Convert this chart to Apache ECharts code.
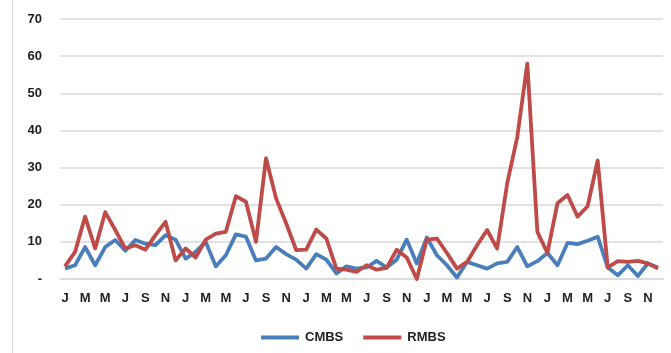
<!DOCTYPE html>
<html>
<head>
<meta charset="utf-8">
<script src="https://cdn.jsdelivr.net/npm/echarts@6/dist/echarts.min.js"></script>
<style>
html,body{margin:0;padding:0;background:#fff;}
#chart{width:671px;height:353px;}
</style>
</head>
<body>
<div id="chart"></div>
<script>
const monthLetters = ['J','F','M','A','M','J','J','A','S','O','N','D'];
const categories = [].concat(monthLetters, monthLetters, monthLetters, monthLetters, monthLetters);
const yTickLabels = {0:'-',10:'10',20:'20',30:'30',40:'40',50:'50',60:'60',70:'70'};
const cmbs = [2.8, 3.7, 8.6, 3.7, 8.6, 10.5, 7.6, 10.5, 9.5, 9.1, 11.8, 10.6,
  5.5, 7.3, 10.0, 3.4, 6.4, 12.0, 11.4, 5.0, 5.5, 8.6, 6.7, 5.2,
  2.8, 6.7, 5.2, 1.5, 3.4, 2.8, 3.1, 4.9, 3.1, 5.2, 10.6, 4.2,
  11.2, 6.4, 3.7, 0.4, 4.6, 3.7, 2.8, 4.2, 4.6, 8.6, 3.4, 4.8,
  7.0, 3.7, 9.7, 9.4, 10.3, 11.4, 3.1, 1.0, 3.7, 0.8, 4.2, 3.1];
const rmbs = [3.4, 7.3, 16.8, 8.2, 18.0, 13.2, 8.2, 9.1, 7.9, 11.8, 15.4, 5.0,
  8.2, 5.8, 10.6, 12.2, 12.7, 22.3, 20.8, 10.0, 32.5, 21.7, 15.0, 7.8,
  7.9, 13.3, 10.9, 2.8, 2.5, 1.9, 3.7, 2.5, 3.0, 7.9, 5.8, 0.0,
  10.6, 10.9, 7.0, 2.8, 4.6, 9.1, 13.2, 8.2, 25.8, 38.2, 58.0, 12.7,
  7.0, 20.4, 22.6, 16.8, 19.6, 31.9, 3.1, 4.8, 4.6, 4.9, 4.2, 2.8];

const chart = echarts.init(document.getElementById('chart'));
const font = {fontFamily:'Liberation Sans', fontWeight:'bold', fontSize:13, color:'#222'};
chart.setOption({
  animation:false,
  backgroundColor:'#fff',
  grid:{left:60, right:8, top:19, bottom:74, containLabel:false},
  graphic:[{type:'line', shape:{x1:12.5,y1:0,x2:12.5,y2:353}, style:{stroke:'#d9d9d9', lineWidth:1}}],
  legend:{
    left:256, top:326, itemWidth:38, itemHeight:4, itemGap:20, icon:'rect',
    textStyle:Object.assign({}, font, {padding:[0,0,0,1]}),
    data:['CMBS','RMBS']
  },
  xAxis:{
    type:'category', data:categories, boundaryGap:true,
    axisLine:{lineStyle:{color:'#d9d9d9', width:1.5}},
    axisTick:{show:false},
    axisLabel:Object.assign({}, font, {interval:1, margin:13})
  },
  yAxis:{
    type:'value', min:0, max:70, interval:10,
    axisLine:{show:false}, axisTick:{show:false},
    splitLine:{lineStyle:{color:'#d9d9d9', width:1.5}},
    axisLabel:Object.assign({}, font, {margin:18, formatter:v => yTickLabels[v] !== undefined ? yTickLabels[v] : String(v)})
  },
  series:[
    {name:'CMBS', type:'line', data:cmbs, symbol:'none', color:'#4a7ebb', lineStyle:{width:3.8, color:'#4a7ebb', join:'round'}},
    {name:'RMBS', type:'line', data:rmbs, symbol:'none', color:'#be4b48', lineStyle:{width:3.8, color:'#be4b48', join:'round'}}
  ]
});
</script>
</body>
</html>
